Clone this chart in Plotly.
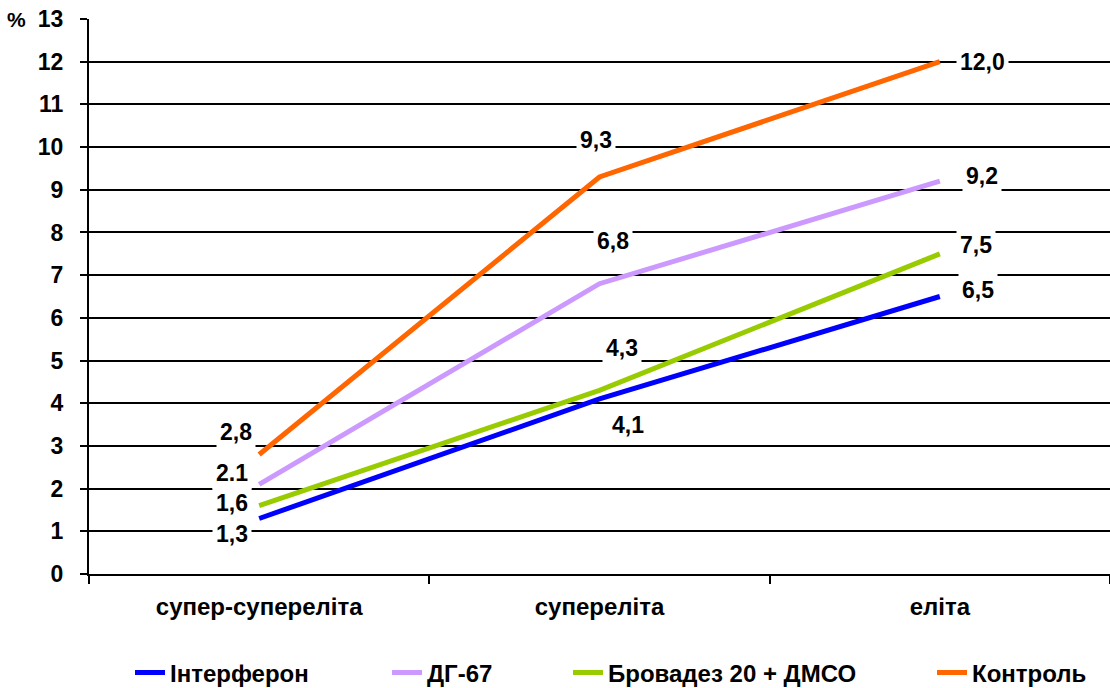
import plotly.graph_objects as go

categories = ["супер-супереліта", "супереліта", "еліта"]
series_names = ["Інтерферон", "ДГ-67", "Бровадез 20 + ДМСО", "Контроль"]
interferon = [1.3, 4.1, 6.5]
dg67 = [2.1, 6.8, 9.2]
brovadez = [1.6, 4.3, 7.5]
control = [2.8, 9.3, 12.0]
interferon_labels = ["1,3", "4,1", "6,5"]
dg67_labels = ["2.1", "6,8", "9,2"]
brovadez_labels = ["1,6", "4,3", "7,5"]
control_labels = ["2,8", "9,3", "12,0"]
y_ticks = list(range(0, 14))

colors = ["#0000FF", "#CC99FF", "#99CC00", "#FF6600"]
values = [interferon, dg67, brovadez, control]
labels = [interferon_labels, dg67_labels, brovadez_labels, control_labels]
# label pixel offsets (dx, dy) per series per category
offsets = [
    [(-27, -15), (28, -26), (38, 7)],
    [(-27, 11), (13, 43), (42, 5)],
    [(-27, 3), (22, 42), (36, 9)],
    [(-23, 22), (-4, 37), (43, 0)],
]
# legend placement (paper x of each legend box)
legend_x = [(171 - 41 - 89) / 1021, (428 - 41 - 89) / 1021,
            (609 - 41 - 89) / 1021, (973 - 41 - 89) / 1021]

FONT = "Arial, Liberation Sans, sans-serif"
LEG_FONT = dict(family=FONT, size=24, color="black", weight="bold")
fig = go.Figure()
for i, (name, vals, col) in enumerate(zip(series_names, values, colors)):
    lname = "legend" if i == 0 else f"legend{i+1}"
    fig.add_trace(go.Scatter(x=categories, y=vals, name=name, mode="lines",
                             line=dict(color=col, width=5), legend=lname))

for vals, labs, offs in zip(values, labels, offsets):
    for cat, v, lab, (dx, dy) in zip(categories, vals, labs, offs):
        fig.add_annotation(x=cat, y=v, text=lab, showarrow=False,
                           xshift=dx, yshift=dy, bgcolor="white",
                           font=dict(family=FONT, size=23, color="black", weight="bold"),
                           borderpad=3)

fig.add_annotation(xref="paper", yref="paper", x=-0.06, y=1.0, text="%",
                   showarrow=False, xanchor="right", yanchor="middle",
                   font=dict(family=FONT, size=21, color="black", weight="bold"))

legends = {}
for i, lx in enumerate(legend_x):
    key = "legend" if i == 0 else f"legend{i+1}"
    legends[key] = dict(orientation="h", x=lx, xanchor="left", y=-0.178,
                        yanchor="middle", font=LEG_FONT, bgcolor="rgba(0,0,0,0)")

fig.update_layout(
    width=1110, height=688,
    margin=dict(l=89, r=0, t=19, b=114, autoexpand=False),
    paper_bgcolor="white", plot_bgcolor="white",
    font=dict(family=FONT, size=20, color="black"),
    showlegend=True,
    xaxis=dict(type="category", range=[-0.5, 2.5], tickson="boundaries",
               showgrid=False, showline=True, linecolor="black", linewidth=2,
               ticks="outside", ticklen=8, tickwidth=2, tickcolor="black",
               tickfont=dict(family=FONT, size=24, color="black", weight="bold"),
               ticklabelstandoff=10, automargin=False),
    yaxis=dict(range=[0, 13], tickvals=y_ticks, showgrid=True, gridcolor="black",
               gridwidth=2, showline=True, linecolor="black", linewidth=2,
               ticks="outside", ticklen=7, tickwidth=2, tickcolor="black",
               tickfont=dict(family=FONT, size=23, color="black", weight="bold"),
               ticklabelstandoff=12, zeroline=False, automargin=False),
    **legends,
)
fig.write_html("out.html")
